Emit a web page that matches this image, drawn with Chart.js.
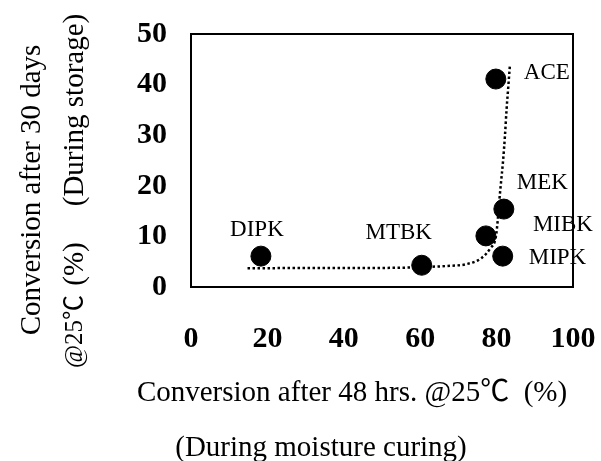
<!DOCTYPE html>
<html>
<head>
<meta charset="utf-8">
<script src="https://cdn.jsdelivr.net/npm/chart.js@4"></script>
<style>
  html, body { margin: 0; padding: 0; background: #fff; }
  #wrap { width: 601px; height: 461px; }
</style>
</head>
<body>
<div id="wrap"><canvas id="c" width="601" height="461"></canvas></div>
<script>
// ---- data ----
const solvents = ['DIPK', 'MTBK', 'MIBK', 'MEK', 'MIPK', 'ACE'];
const curingConversion = [18.3, 60.4, 77.2, 81.9, 81.6, 79.8];   // x: after 48 hrs @25C (%)
const storageConversion = [6.1, 4.3, 10.1, 15.4, 6.1, 41.1];     // y: after 30 days @25C (%)
const trendX = [14.8, 30, 45, 54, 60, 63, 68, 72, 76, 78.4, 79.8, 80.3, 80.7, 81.2, 81.7, 82.2, 82.6, 83.0, 83.5];
const trendY = [3.7, 3.75, 3.75, 3.8, 3.9, 4.0, 4.2, 4.5, 5.7, 7.7, 9.9, 13.2, 17, 21, 25, 30, 35, 39, 44];
const xTickValues = [0, 20, 40, 60, 80, 100];
const yTickValues = [0, 10, 20, 30, 40, 50];

// ---- label placement (style) ----
const labelPlacement = {
  DIPK: { dx: -4, dy: -26, align: 'center' },
  MTBK: { dx: -23, dy: -32, align: 'center' },
  MIBK: { dx: 47, dy: -11, align: 'left' },
  MEK:  { dx: 13, dy: -26, align: 'left' },
  MIPK: { dx: 26, dy: 2, align: 'left' },
  ACE:  { dx: 28, dy: -6, align: 'left' }
};

const serif = '"Liberation Serif", "Times New Roman", "Noto Sans CJK JP", serif';

const pointData = curingConversion.map((x, i) => ({ x: x, y: storageConversion[i] }));
const trendData = trendX.map((x, i) => ({ x: x, y: trendY[i] }));

const decorPlugin = {
  id: 'decor',
  afterDatasetsDraw(chart) {
    const ctx = chart.ctx;
    const a = chart.chartArea;
    ctx.save();
    // frame
    ctx.strokeStyle = '#000';
    ctx.lineWidth = 2;
    ctx.strokeRect(a.left, a.top, a.right - a.left, a.bottom - a.top);
    // point labels
    const meta = chart.getDatasetMeta(0);
    ctx.fillStyle = '#000';
    ctx.font = '23px ' + serif;
    ctx.textBaseline = 'middle';
    meta.data.forEach((el, i) => {
      const p = labelPlacement[solvents[i]];
      ctx.textAlign = p.align;
      ctx.fillText(solvents[i], el.x + p.dx, el.y + p.dy);
    });
    // axis titles
    ctx.font = '29px ' + serif;
    ctx.textAlign = 'center';
    ctx.fillText('Conversion after 48 hrs. @25\u2103  (%)', 352, 393);
    ctx.fillText('(During moisture curing)', 321, 448);
    ctx.save();
    ctx.translate(32, 190);
    ctx.rotate(-Math.PI / 2);
    ctx.fillText('Conversion after 30 days', 0, 0);
    ctx.restore();
    // second y-title column
    const drawRot = (t, x, y, align, font) => {
      ctx.save();
      ctx.font = font;
      ctx.textAlign = align;
      ctx.translate(x, y);
      ctx.rotate(-Math.PI / 2);
      ctx.fillText(t, 0, 0);
      ctx.restore();
    };
    drawRot('@25\u2103', 75, 368, 'left', '25px ' + serif);
    drawRot('(%)', 75, 264, 'center', '29px ' + serif);
    drawRot('(During storage)', 75, 110, 'center', '29px ' + serif);
    ctx.restore();
  }
};

new Chart(document.getElementById('c'), {
  type: 'scatter',
  data: {
    datasets: [
      {
        label: 'Solvents',
        data: pointData,
        backgroundColor: '#000',
        borderColor: '#000',
        pointRadius: 10,
        pointHoverRadius: 10,
        showLine: false
      },
      {
        label: 'Trend',
        data: trendData,
        showLine: true,
        borderColor: '#000',
        borderWidth: 2.5,
        borderDash: [2.5, 2.5],
        pointRadius: 0,
        tension: 0.4,
        cubicInterpolationMode: 'monotone',
        fill: false
      }
    ]
  },
  options: {
    responsive: false,
    animation: false,
    layout: { padding: { top: 34, right: 28, left: 0, bottom: 0 } },
    plugins: { legend: { display: false }, tooltip: { enabled: false } },
    scales: {
      x: {
        type: 'linear',
        min: 0, max: 100,
        afterBuildTicks: (s) => { s.ticks = xTickValues.map(v => ({ value: v })); },
        afterFit: (s) => { s.height = 174; s.paddingLeft = 0; s.paddingRight = 0; },
        grid: { display: false, drawTicks: false },
        border: { display: false },
        ticks: {
          padding: 34,
          color: '#000',
          font: { family: serif, size: 30, weight: 'bold' },
          maxRotation: 0
        }
      },
      y: {
        type: 'linear',
        min: 0, max: 50,
        afterBuildTicks: (s) => { s.ticks = yTickValues.map(v => ({ value: v })); },
        afterFit: (s) => { s.width = 191; s.paddingTop = 0; s.paddingBottom = 0; },
        grid: { display: false, drawTicks: false },
        border: { display: false },
        ticks: {
          padding: 24,
          color: '#000',
          font: { family: serif, size: 30, weight: 'bold' }
        }
      }
    }
  },
  plugins: [decorPlugin]
});
</script>
</body>
</html>
